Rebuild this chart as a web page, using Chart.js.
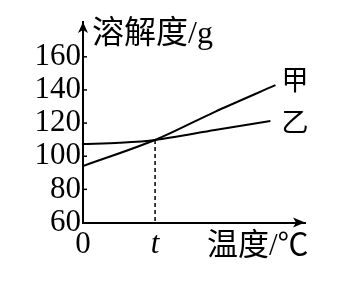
<!DOCTYPE html>
<html>
<head>
<meta charset="utf-8">
<script src="https://cdn.jsdelivr.net/npm/chart.js@4"></script>
<style>
html,body{margin:0;padding:0;background:#fff;}
canvas{display:block;}
</style>
</head>
<body>
<canvas id="c" width="363" height="289"></canvas>
<script>
// ---- data ----
const seriesNames = ['甲', '乙'];
const jiaX = [0, 10, 18.3, 26.7];
const jiaY = [94.1, 109.8, 126.8, 142.9];
const yiX = [0, 5.1, 10, 18.3, 26.0];
const yiY = [107.3, 108.1, 109.8, 115.8, 121.2];
const yTicks = [60, 80, 100, 120, 140, 160];
const xTicks = [0, 10];
const xTickLabels = ['0', 't'];
const tValue = 10;
const tY = 109.8;
const yTitle = '溶解度/g';
const xTitle = '温度/℃';

const SERIF = '"Liberation Serif", "Noto Sans CJK SC", serif';

const toPts = (xs, ys) => xs.map((x, i) => ({x: x, y: ys[i]}));

const decor = {
  id: 'decor',
  afterDraw(chart) {
    const ctx = chart.ctx;
    const xs = chart.scales.x, ys = chart.scales.y;
    const ca = chart.chartArea;
    ctx.save();
    ctx.fillStyle = '#000';
    ctx.strokeStyle = '#000';
    // inward tick marks on y axis
    ctx.lineWidth = 1.5;
    yTicks.forEach(v => {
      if (v === ys.min) return;
      const py = ys.getPixelForValue(v);
      ctx.beginPath();
      ctx.moveTo(ca.left, py);
      ctx.lineTo(ca.left + 4, py);
      ctx.stroke();
    });
    // arrows
    ctx.beginPath();
    ctx.moveTo(ca.left, ca.top);
    ctx.lineTo(ca.left - 5, ca.top + 11);
    ctx.lineTo(ca.left, ca.top + 8);
    ctx.lineTo(ca.left + 5, ca.top + 11);
    ctx.closePath();
    ctx.fill();
    ctx.beginPath();
    ctx.moveTo(ca.right, ca.bottom);
    ctx.lineTo(ca.right - 12, ca.bottom - 5);
    ctx.lineTo(ca.right - 9, ca.bottom);
    ctx.lineTo(ca.right - 12, ca.bottom + 5);
    ctx.closePath();
    ctx.fill();
    // dashed line at t
    const tx = xs.getPixelForValue(tValue);
    ctx.setLineDash([4, 3]);
    ctx.lineWidth = 1.5;
    ctx.beginPath();
    ctx.moveTo(tx, ys.getPixelForValue(tY));
    ctx.lineTo(tx, ca.bottom);
    ctx.stroke();
    ctx.setLineDash([]);
    // titles
    ctx.textBaseline = 'middle';
    ctx.textAlign = 'left';
    ctx.font = '32px ' + SERIF;
    ctx.fillText(yTitle, ca.left + 9, 35);
    ctx.font = '31px ' + SERIF;
    ctx.fillText(xTitle, 207, 247);
    // series labels
    ctx.font = '27px ' + SERIF;
    const jEnd = {x: xs.getPixelForValue(jiaX[jiaX.length - 1]), y: ys.getPixelForValue(jiaY[jiaY.length - 1])};
    const yEnd = {x: xs.getPixelForValue(yiX[yiX.length - 1]), y: ys.getPixelForValue(yiY[yiY.length - 1])};
    ctx.fillText(seriesNames[0], jEnd.x + 6, jEnd.y - 2);
    ctx.fillText(seriesNames[1], yEnd.x + 11, yEnd.y + 4);
    ctx.restore();
  }
};

new Chart(document.getElementById('c'), {
  type: 'line',
  data: {
    datasets: [
      {label: seriesNames[0], data: toPts(jiaX, jiaY), borderColor: '#000', borderWidth: 2, pointRadius: 0, tension: 0.3, fill: false},
      {label: seriesNames[1], data: toPts(yiX, yiY), borderColor: '#000', borderWidth: 2, pointRadius: 0, tension: 0.3, fill: false}
    ]
  },
  options: {
    responsive: false,
    animation: false,
    devicePixelRatio: 1,
    layout: {padding: {left: 0, top: 22, right: 58, bottom: 0}},
    plugins: {legend: {display: false}, tooltip: {enabled: false}},
    scales: {
      x: {
        type: 'linear', min: 0, max: 30.8,
        afterBuildTicks: s => { s.ticks = xTicks.map(v => ({value: v})); },
        afterFit: s => { s.height = 289 - 222.5; },
        grid: {display: false, drawTicks: false},
        border: {display: true, color: '#000', width: 2},
        ticks: {
          padding: 4,
          autoSkip: false,
          maxRotation: 0,
          color: '#000',
          font: c => ({family: SERIF, size: 31, style: c.tick && c.tick.value === tValue ? 'italic' : 'normal'}),
          callback: (v) => xTickLabels[xTicks.indexOf(v)]
        }
      },
      y: {
        type: 'linear', min: 60, max: 181,
        afterBuildTicks: s => { s.ticks = yTicks.map(v => ({value: v})); },
        afterFit: s => { s.width = 83; },
        grid: {display: false, drawTicks: false},
        border: {display: true, color: '#000', width: 2},
        ticks: {
          padding: 2,
          autoSkip: false,
          color: '#000',
          font: {family: SERIF, size: 31},
          callback: v => String(v)
        }
      }
    }
  },
  plugins: [decor]
});
</script>
</body>
</html>
